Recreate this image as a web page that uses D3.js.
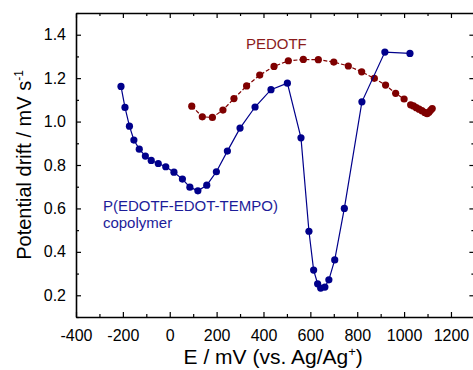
<!DOCTYPE html>
<html>
<head>
<meta charset="utf-8">
<script src="https://cdn.jsdelivr.net/npm/d3@7"></script>
<style>
  html, body { margin: 0; padding: 0; background: #fff; }
  svg { display: block; font-family: "Liberation Sans", Arial, sans-serif; }
</style>
</head>
<body>
<svg id="chart" width="473" height="370"></svg>
<script>
// copolymer P(EDOTF-EDOT-TEMPO)
var copolymerE = [-208, -191, -172, -153, -130, -104, -79, -49, -17, 18, 54, 86, 120, 158, 199, 246, 300,
    364, 432, 502, 560, 594, 614, 631, 644, 662, 679, 704, 745, 820, 918, 1025];
var copolymerDrift = [1.162, 1.065, 0.979, 0.915, 0.873, 0.841, 0.821, 0.807, 0.792, 0.767, 0.735, 0.698, 0.681, 0.707, 0.769, 0.864, 0.970,
    1.067, 1.147, 1.177, 0.925, 0.495, 0.316, 0.253, 0.233, 0.238, 0.271, 0.363, 0.600, 1.091, 1.320, 1.314];

// PEDOTF
var pedotfE = [94, 139, 182, 227, 274, 328, 384, 445, 506, 570, 634, 700, 762, 819, 873, 921, 964, 1000, 1028,
    1040, 1052, 1064, 1076, 1088, 1098, 1106, 1113, 1120];
var pedotfDrift = [1.071, 1.022, 1.019, 1.053, 1.106, 1.164, 1.214, 1.254, 1.280, 1.286, 1.285, 1.274, 1.256, 1.229, 1.199, 1.168, 1.130, 1.104, 1.077,
    1.072, 1.064, 1.057, 1.050, 1.042, 1.036, 1.043, 1.052, 1.060];

var xTicks = [-400, -200, 0, 200, 400, 600, 800, 1000, 1200];
var yTicks = [0.2, 0.4, 0.6, 0.8, 1.0, 1.2, 1.4];

var svg = d3.select("#chart");

var margin = {top: 13, left: 76};
var width = 398.4;
var height = 304;

var x = d3.scaleLinear().domain([-400, 1300]).range([0, width]);
var y = d3.scaleLinear().domain([0.1, 1.5]).range([height, 0]);

var g = svg.append("g")
    .attr("transform", "translate(" + margin.left + "," + margin.top + ")");

var xMinor = d3.range(-400, 1301, 100).filter(function(d) { return xTicks.indexOf(d) < 0; });
var yMinor = [0.1, 0.3, 0.5, 0.7, 0.9, 1.1, 1.3, 1.5];

function styleAxis(sel) {
    sel.selectAll("path").attr("stroke", "#000").attr("stroke-width", 1.6);
    sel.selectAll("line").attr("stroke", "#000").attr("stroke-width", 1.2);
    sel.selectAll("text").attr("fill", "#000").style("font-size", "16px");
}

// bottom axis, ticks inward
g.append("g")
    .attr("transform", "translate(0," + height + ")")
    .call(d3.axisBottom(x).tickValues(xTicks).tickSizeInner(-5).tickSizeOuter(0).tickPadding(13)
        .tickFormat(function(d) { return d; }))
    .call(styleAxis);
g.append("g")
    .attr("transform", "translate(0," + height + ")")
    .call(d3.axisBottom(x).tickValues(xMinor).tickSize(-3).tickFormat(""))
    .call(styleAxis).select("path").remove();

// top axis (mirror)
g.append("g")
    .call(d3.axisTop(x).tickValues(xTicks).tickSizeInner(-5).tickSizeOuter(0).tickFormat(""))
    .call(styleAxis);
g.append("g")
    .call(d3.axisTop(x).tickValues(xMinor).tickSize(-3).tickFormat(""))
    .call(styleAxis).select("path").remove();

// left axis
g.append("g")
    .call(d3.axisLeft(y).tickValues(yTicks).tickSizeInner(-5).tickSizeOuter(0).tickPadding(10)
        .tickFormat(d3.format(".1f")))
    .call(styleAxis);
g.append("g")
    .call(d3.axisLeft(y).tickValues(yMinor).tickSize(-3).tickFormat(""))
    .call(styleAxis).select("path").remove();

// right axis (mirror)
g.append("g")
    .attr("transform", "translate(" + width + ",0)")
    .call(d3.axisRight(y).tickValues(yTicks).tickSizeInner(-5).tickSizeOuter(0).tickFormat(""))
    .call(styleAxis);
g.append("g")
    .attr("transform", "translate(" + width + ",0)")
    .call(d3.axisRight(y).tickValues(yMinor).tickSize(-3).tickFormat(""))
    .call(styleAxis).select("path").remove();

var series = [
    {e: pedotfE, v: pedotfDrift, color: "#7f0000", dash: "4,2"},
    {e: copolymerE, v: copolymerDrift, color: "#00008b", dash: null}
];

series.forEach(function(s) {
    var pts = s.e.map(function(d, i) { return [d, s.v[i]]; });
    var line = d3.line()
        .x(function(d) { return x(d[0]); })
        .y(function(d) { return y(d[1]); });
    g.append("path")
        .datum(pts)
        .attr("fill", "none")
        .attr("stroke", s.color)
        .attr("stroke-width", 1.2)
        .attr("stroke-dasharray", s.dash)
        .attr("d", line);
    g.selectAll(null)
        .data(pts)
        .enter().append("circle")
        .attr("cx", function(d) { return x(d[0]); })
        .attr("cy", function(d) { return y(d[1]); })
        .attr("r", 3.6)
        .attr("fill", s.color);
});

// series labels
g.append("text")
    .attr("x", x(325))
    .attr("y", y(1.334))
    .attr("fill", "#8b1c1c")
    .style("font-size", "15px")
    .text("PEDOTF");

var lab = g.append("text")
    .attr("x", x(-285))
    .attr("y", y(0.586))
    .attr("fill", "#1c1c99")
    .style("font-size", "15px");
lab.append("tspan").text("P(EDOTF-EDOT-TEMPO)");
lab.append("tspan").attr("x", x(-285)).attr("dy", 16.5).text("copolymer");

// axis titles
var xt = svg.append("text")
    .attr("x", margin.left + width / 2 - 2)
    .attr("y", 364)
    .attr("text-anchor", "middle")
    .style("font-size", "21px")
    .text("E / mV (vs. Ag/Ag");
xt.append("tspan").attr("dy", -8).style("font-size", "13px").text("+");
xt.append("tspan").attr("dy", 8).text(")");

var yt = svg.append("text")
    .attr("transform", "translate(31," + (margin.top + height / 2) + ") rotate(-90)")
    .attr("text-anchor", "middle")
    .style("font-size", "20px")
    .text("Potential drift / mV s");
yt.append("tspan").attr("dy", -8).style("font-size", "12px").text("-1");
</script>
</body>
</html>
